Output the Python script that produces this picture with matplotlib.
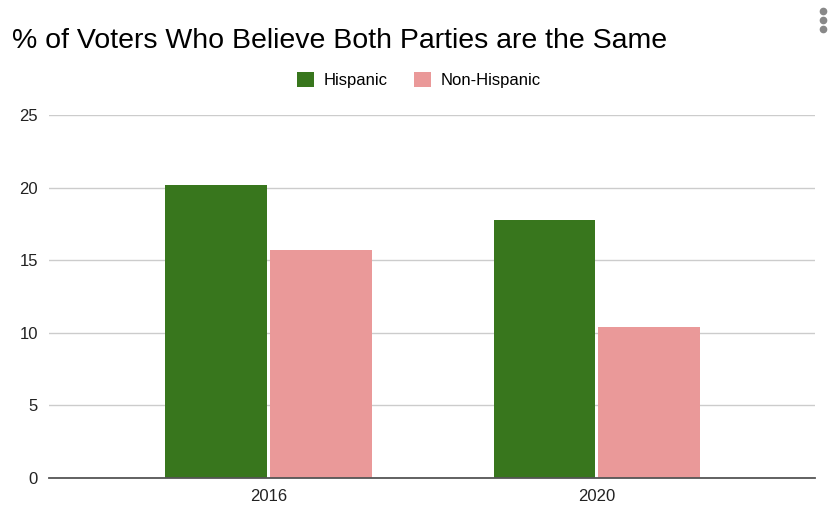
import matplotlib.pyplot as plt
from matplotlib.lines import Line2D
import numpy as np

plt.rcParams['font.family'] = ['Liberation Sans', 'DejaVu Sans']

years = ['2016', '2020']
hispanic = [20.2, 17.8]
non_hispanic = [15.7, 10.4]

green = '#38761d'
pink = '#ea9999'

fig = plt.figure(figsize=(8.3, 5.13), dpi=100)
ax = fig.add_axes([49 / 830, 1 - 478 / 513, 766 / 830, (478 - 115) / 513])

x = np.arange(len(years))
w = 0.31
ax.bar(x - w / 2 - 0.005, hispanic, w, color=green, label='Hispanic', zorder=3)
ax.bar(x + w / 2 + 0.005, non_hispanic, w, color=pink, label='Non-Hispanic', zorder=3)

ax.set_xlim(-0.67, 1.665)
ax.set_ylim(0, 25)
ax.set_yticks([0, 5, 10, 15, 20, 25])
ax.set_xticks(x)
ax.set_xticklabels(years)
ax.grid(axis='y', color='#cccccc', linewidth=1, zorder=0)
for s in ['top', 'right', 'left']:
    ax.spines[s].set_visible(False)
ax.spines['bottom'].set_color('#555555')
ax.spines['bottom'].set_linewidth(1.3)
ax.spines['bottom'].set_zorder(4)
ax.tick_params(axis='both', length=0, labelsize=12, colors='#222222')
ax.tick_params(axis='y', pad=8)
ax.tick_params(axis='x', pad=8)

fig.text(12 / 830, 1 - 41 / 513, '% of Voters Who Believe Both Parties are the Same',
         fontsize=20.5, va='center', ha='left', color='#000000')

fig.legend(loc='center', bbox_to_anchor=(0.505, 1 - 80 / 513), ncol=2, frameon=False,
           fontsize=12, handlelength=1.0, handleheight=1.0, handletextpad=0.6,
           columnspacing=1.6)

# menu dots in the top-right corner
fig.add_artist(Line2D([823 / 830] * 3, [1 - 11 / 513, 1 - 20 / 513, 1 - 29 / 513],
                      transform=fig.transFigure, linestyle='none', marker='o',
                      markersize=4.5, color='#888888'))

fig.savefig('out.png', dpi=100, facecolor='white')
